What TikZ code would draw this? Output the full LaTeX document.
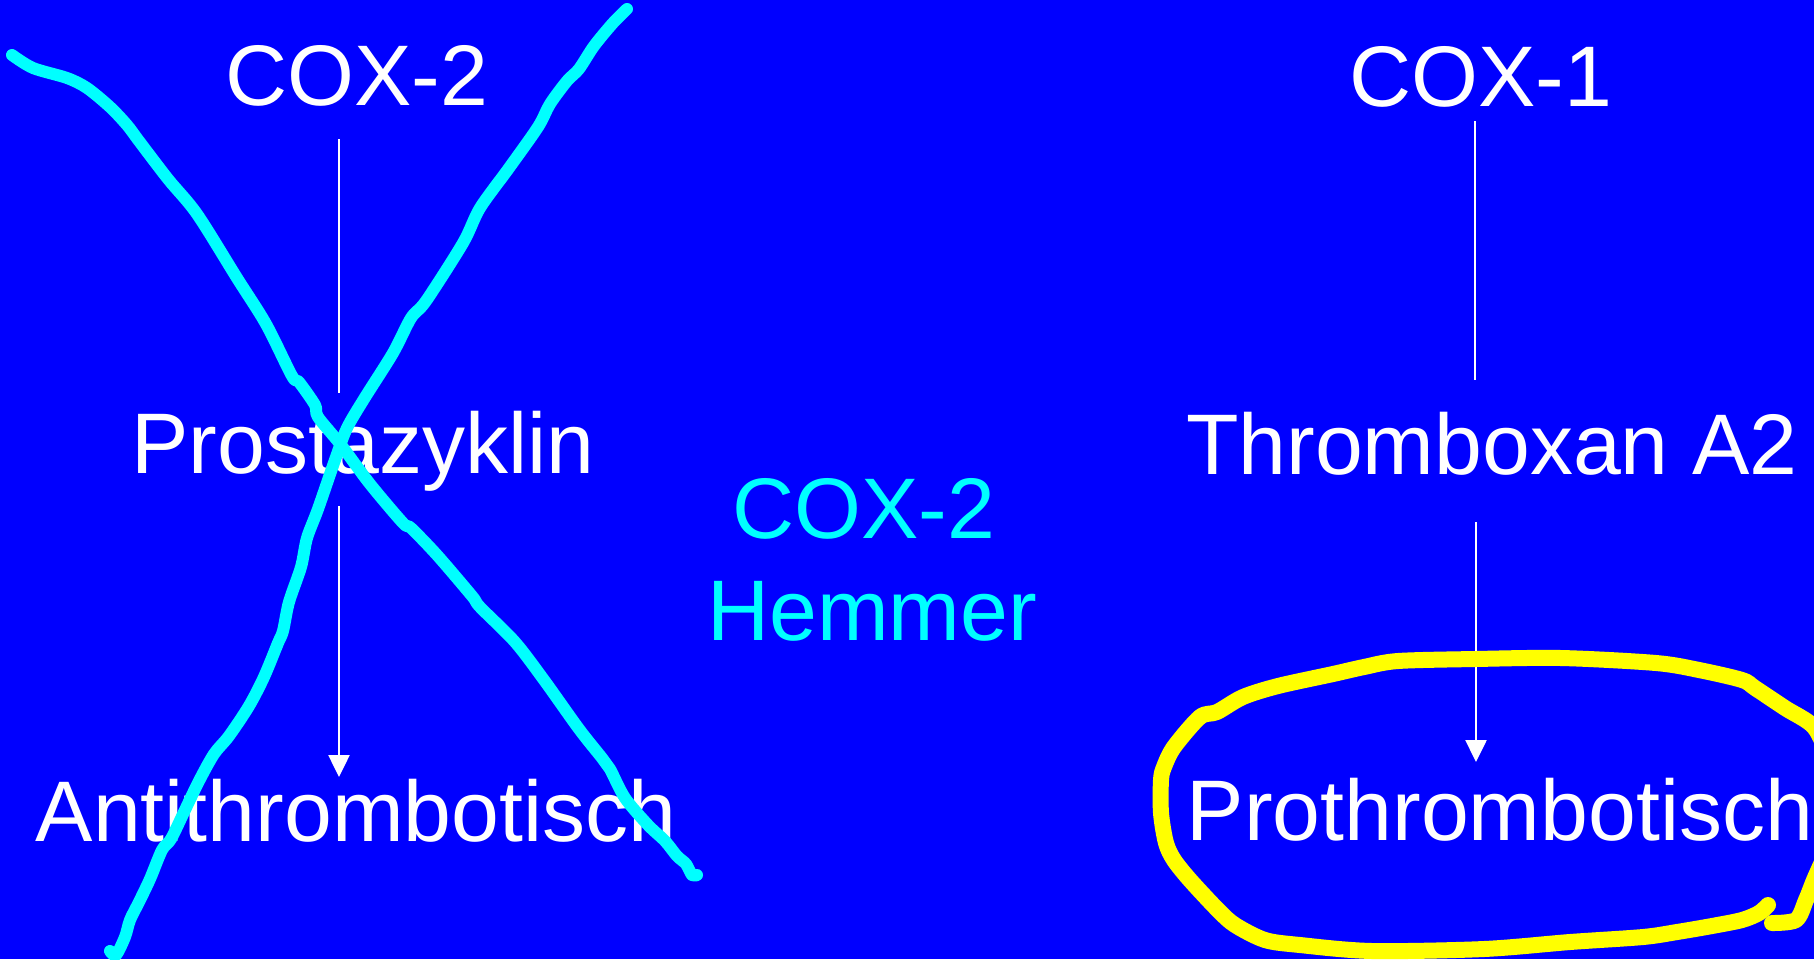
\documentclass[tikz,border=0pt]{standalone}
\usepackage{fontspec}
\setmainfont{Liberation Sans}
\usetikzlibrary{arrows.meta}
\definecolor{bg}{RGB}{0,0,255}
\definecolor{cy}{RGB}{0,255,255}
\definecolor{yl}{RGB}{255,255,0}
\tikzset{
  lbl/.style={anchor=base, inner sep=0pt, text=white, font=\fontsize{86}{100}\selectfont},
  cylbl/.style={lbl, text=cy},
  link/.style={draw=white, line width=2.5pt},
  arr/.style={link, -{Triangle[width=21pt,length=22pt]}},
  cross/.style={draw=cy, line width=12pt, line cap=round, line join=round},
  loop/.style={draw=yl, line width=16pt, line cap=round, line join=round}
}
\begin{document}
\begin{tikzpicture}[x=1pt,y=-1pt]
\fill[bg] (0,0) rectangle (1814,959);
\useasboundingbox (0,0) rectangle (1814,959);
\begin{scope}
\clip (0,0) rectangle (1814,959);
% nodes
\node[lbl] (coxa) at (357,105) {COX-2};
\node[lbl] (prost) at (363,473) {Prostazyklin};
\node[lbl] (anti) at (356,841) {Antithrombotisch};
\node[lbl] (coxb) at (1481,106) {COX-1};
\node[lbl] (thromb) at (1492,474) {Thromboxan A2};
\node[lbl] (pro) at (1500,840) {Prothrombotisch};
\node[cylbl] (hema) at (864,538) {COX-2};
\node[cylbl] (hemb) at (872,640) {Hemmer};
% connector end points
\coordinate (l1a) at (339,139);
\coordinate (l1b) at (339,393);
\coordinate (l2a) at (339,506);
\coordinate (l2b) at (339,777);
\coordinate (r1a) at (1475,121);
\coordinate (r1b) at (1475,380);
\coordinate (r2a) at (1476,522);
\coordinate (r2b) at (1476,762);
\draw[link] (l1a) -- (l1b);
\draw[arr] (l2a) -- (l2b);
\draw[link] (r1a) -- (r1b);
\draw[arr] (r2a) -- (r2b);
% cyan cross
\draw[cross] plot[smooth, tension=0.5] coordinates {
(12,55) (33,68) (67,78) (87,88) (110,107) (127,125) (139,141) (168,179) (197,214)
(237,278) (266,324) (292,376) (299,382) (315,405) (318,417) (341,445)
(370,484) (403,523) (411,528) (437,555) (472,596) (480,607) (515,642)
(544,680) (579,729) (602,758) (610,769) (625,798) (648,825) (665,841)
(677,856) (686,864) (692,875) (697,875)};
\draw[cross] plot[smooth, tension=0.5] coordinates {
(110,951) (116,955) (125,937) (130,920) (139,902) (150,879) (162,850)
(171,839) (185,810) (199,781) (214,754) (229,736) (249,706) (264,677)
(278,643) (283,631) (289,602) (301,567) (307,538) (318,509) (336,457)
(347,428) (364,399) (393,353) (411,318) (426,301) (463,243) (480,208)
(509,168) (538,127) (550,104) (567,81) (579,69) (594,46) (613,23) (627,9)};
% yellow loop
\draw[loop] plot[smooth, tension=0.5] coordinates {
(1768,905) (1759,913) (1742,920) (1712,926) (1677,932) (1643,937)
(1570,942) (1484,949) (1372,951) (1300,945) (1265,940) (1235,925) (1218,910)
(1190,880) (1174,860) (1166,843) (1161,813) (1161,780) (1164,767) (1174,747)
(1200,717) (1217,712) (1243,697) (1278,686) (1333,674) (1364,667)
(1398,661) (1475,659) (1561,658) (1656,663) (1699,670) (1742,680)
(1755,688) (1785,708) (1814,727) (1830,760)};
\draw[loop] plot[smooth, tension=0.5] coordinates {
(1772,923) (1796,920) (1806,900) (1814,880) (1822,862)};
\end{scope}
\end{tikzpicture}
\end{document}
